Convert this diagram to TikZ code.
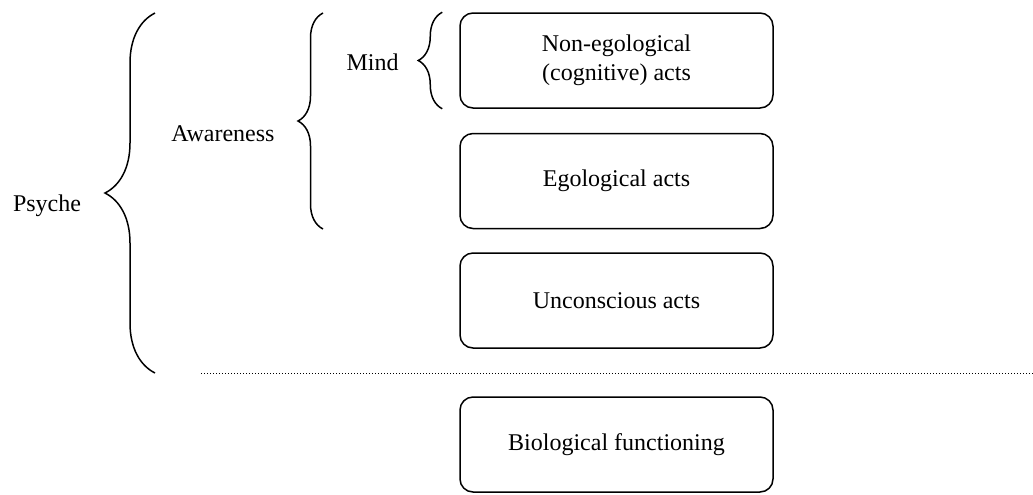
\documentclass[tikz,border=0pt]{standalone}
\usepackage{fontspec}
\setmainfont{Liberation Serif}
\usetikzlibrary{decorations.pathreplacing}

\begin{document}
\begin{tikzpicture}[x=0.5pt,y=-0.5pt]
\tikzstyle{every node}=[font=\fontsize{12}{14.5}\selectfont]
\tikzstyle{act}=[draw, rounded corners=6.5pt, line width=0.75pt, minimum width=156.5pt, minimum height=47.5pt, align=center, inner sep=0pt]
\tikzset{curly/.style={decorate, decoration={brace, amplitude=#1}, line width=0.75pt}}
\useasboundingbox (0,0) rectangle (1033,494);

% acts
\node[act] (nonego) at (616.5,60.5) {Non-egological\\(cognitive) acts};
\node[act] (ego) at (616.5,181) {Egological acts};
\node[act] (uncon) at (616.5,300.5) {Unconscious acts};
\node[act] (bio) at (616.5,444.5) {Biological functioning};

% labels
\node (psyche) at (47,206) {Psyche};
\node (awareness) at (223,134) {Awareness};
\node (mind) at (372.5,62) {Mind};

% border between psyche and body
\coordinate (lineL) at (201,373);
\coordinate (lineR) at (1033,373);
\draw[line width=0.5pt, dash pattern=on 0.5pt off 1pt] (lineL) -- (lineR);

% braces
\draw[curly=12pt] ([xshift=-8.5pt]nonego.south west) -- ([xshift=-8.5pt]nonego.north west);
\draw[curly=12.5pt] (323,229) -- (323,13);
\draw[curly=25pt] (155,373) -- (155,13);
\end{tikzpicture}
\end{document}
